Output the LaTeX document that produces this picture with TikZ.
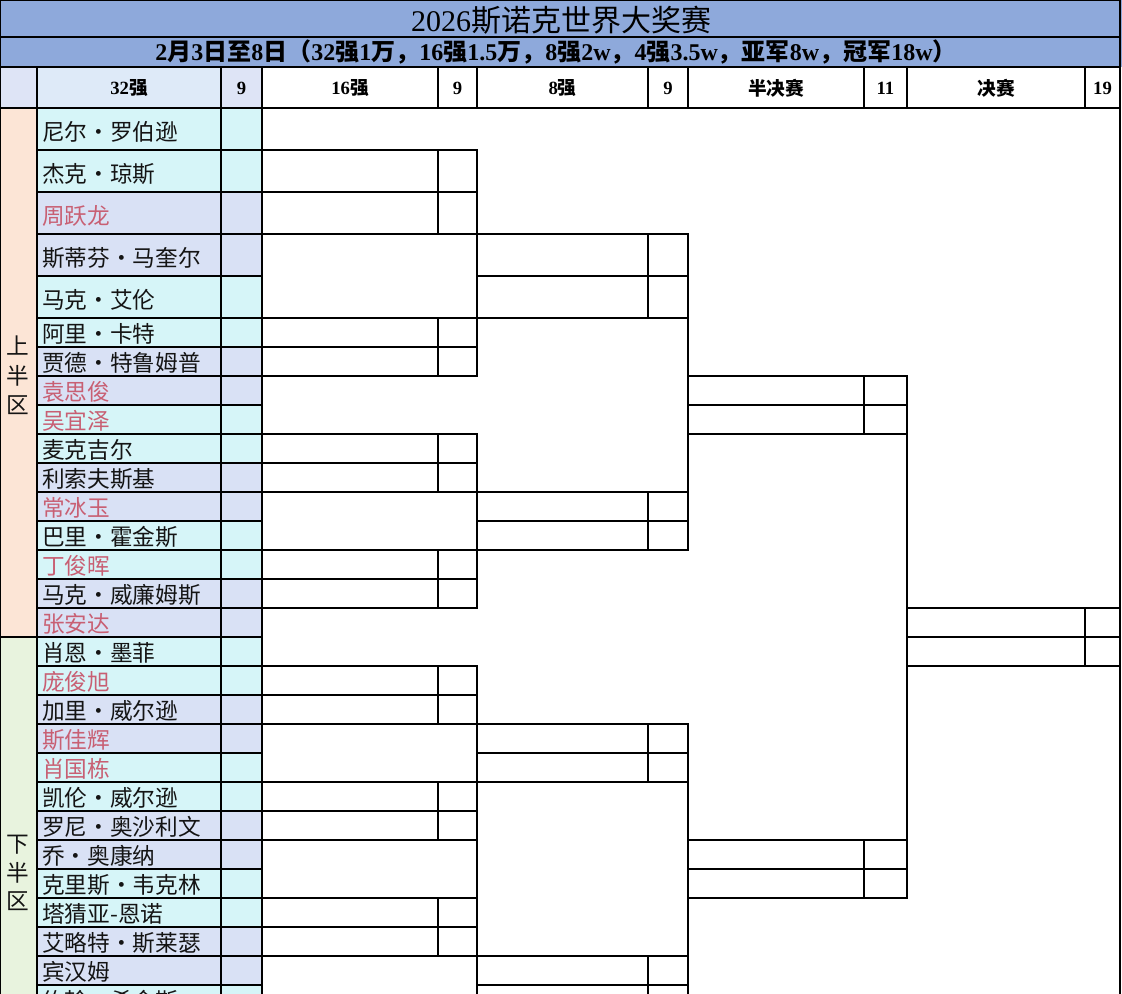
\documentclass[tikz,border=0pt]{standalone}
\usepackage{fontspec}
\setmainfont{Liberation Serif}
\newfontfamily\cjk{Noto Sans CJK SC}
\definecolor{titleblue}{RGB}{142,169,219}
\definecolor{cyanc}{RGB}{214,245,248}
\definecolor{lavc}{RGB}{217,225,245}
\definecolor{peachc}{RGB}{252,229,214}
\definecolor{greenc}{RGB}{232,243,222}
\definecolor{hdrblue}{RGB}{222,234,248}
\definecolor{hdrlav}{RGB}{222,228,246}
\definecolor{nred}{RGB}{200,95,115}
\definecolor{nblk}{RGB}{20,20,20}
\newcommand\dt{\makebox[1em]{•}}
\tikzset{
  grid/.style={line width=0.9pt, black, line cap=rect},
  pname/.style={anchor=base west, inner sep=0pt, font=\cjk\fontsize{17}{17}\selectfont},
  hdr/.style={anchor=center, inner sep=0pt, font=\bfseries\fontsize{14}{14}\selectfont},
  region/.style={anchor=center, inner sep=0pt, font=\cjk\fontsize{17}{17}\selectfont, text=nblk},
}
\begin{document}
\begin{tikzpicture}[x=0.75pt,y=-0.75pt]
\useasboundingbox (0,0) rectangle (1122,994);
\begin{scope}
\clip (0,0) rectangle (1122,994);
% backgrounds
\fill[white] (0,0) rectangle (1122,994);
\fill[titleblue] (0,0) rectangle (1122,67);
\fill[hdrlav] (0,67) rectangle (37,108);
\fill[hdrblue] (37,67) rectangle (221,108);
\fill[hdrlav] (221,67) rectangle (262,108);
\fill[peachc] (0,108) rectangle (37,637);
\fill[greenc] (0,637) rectangle (37,994);
\foreach \i in {0,...,28}{
  \pgfmathsetmacro\yt{\i<5 ? 108+42*\i : 318+29*(\i-5)}
  \pgfmathsetmacro\yb{\i<5 ? \yt+42 : \yt+29}
  \pgfmathtruncatemacro\p{mod(floor(\i/2),2)}
  \ifnum\p=0 \def\fc{cyanc}\else\def\fc{lavc}\fi
  \fill[\fc] (37,\yt) rectangle (262,\yb);
}
% frame and header lines
\foreach \y in {0.5,37,67,108}{\draw[grid] (0,\y) -- (1120,\y);}
\draw[grid] (0.5,0) -- (0.5,994);
\foreach \x in {438,477,648,688,864,907,1085}{\draw[grid] (\x,67) -- (\x,108);}
\foreach \x in {37,221,262}{\draw[grid] (\x,67) -- (\x,994);}
\draw[grid] (0,637) -- (37,637);
% row lines in name / score columns
\foreach \y in {150,192,234,276,318,347,376,405,434,463,492,521,550,579,608,637,666,695,724,753,782,811,840,869,898,927,956,985}{
  \draw[grid] (37,\y) -- (262,\y);
}
% bracket horizontal lines
\foreach \y/\a/\b in {150/262/477,192/262/477,234/262/688,276/477/688,318/262/688,347/262/477,376/262/477,376/688/907,405/688/907,434/262/477,434/688/907,463/262/477,492/262/688,521/477/688,550/262/688,579/262/477,608/262/477,608/907/1120,637/907/1120,666/262/477,666/907/1120,695/262/477,724/262/688,753/477/688,782/262/688,811/262/477,840/262/477,840/688/907,869/688/907,898/262/477,898/688/907,927/262/477,956/262/688,985/477/688}{
  \draw[grid] (\a,\y) -- (\b,\y);
}
% bracket vertical lines
\foreach \x/\a/\b in {438/150/234,438/318/376,438/434/492,438/550/608,438/666/724,438/782/840,438/898/956,477/150/376,477/434/608,477/666/994,648/234/318,648/492/550,648/724/782,648/956/994,688/234/550,688/724/994,864/376/434,864/840/898,907/376/898,1085/608/666}{
  \draw[grid] (\x,\a) -- (\x,\b);
}
\draw[line width=1.9pt] (1120,0) -- (1120,994);
% title texts
\node[inner sep=0pt, font=\fontsize{22.5}{22.5}\selectfont] (title) at (561,20) {2026{\cjk 斯诺克世界大奖赛}};
\node[inner sep=0pt, font=\bfseries\fontsize{18}{18}\selectfont] (sub) at (556,52) {2{\cjk 月}3{\cjk 日至}8{\cjk 日（}32{\cjk 强}1{\cjk 万，}16{\cjk 强}1.5{\cjk 万，}8{\cjk 强}2w{\cjk ，}4{\cjk 强}3.5w{\cjk ，亚军}8w{\cjk ，冠军}18w{\cjk ）}};
% header
\node[hdr] (h1) at (129,88) {32{\cjk 强}};
\node[hdr] (s1) at (241.5,88) {9};
\node[hdr] (h2) at (350,88) {16{\cjk 强}};
\node[hdr] (s2) at (457.5,88) {9};
\node[hdr] (h3) at (562.5,88) {8{\cjk 强}};
\node[hdr] (s3) at (668,88) {9};
\node[hdr] (h4) at (776,88) {\cjk 半决赛};
\node[hdr] (s4) at (885.5,88) {11};
\node[hdr] (h5) at (996,88) {\cjk 决赛};
\node[hdr] (s5) at (1102.5,88) {19};
% region labels
\node[region] (u1) at (18,346) {上};
\node[region] (u2) at (18,376) {半};
\node[region] (u3) at (18,405) {区};
\node[region] (d1) at (18,845) {下};
\node[region] (d2) at (18,873) {半};
\node[region] (d3) at (18,901) {区};
% player names
\foreach \i/\nm/\cl in {
  0/{尼尔\dt 罗伯逊}/nblk,
  1/{杰克\dt 琼斯}/nblk,
  2/{周跃龙}/nred,
  3/{斯蒂芬\dt 马奎尔}/nblk,
  4/{马克\dt 艾伦}/nblk,
  5/{阿里\dt 卡特}/nblk,
  6/{贾德\dt 特鲁姆普}/nblk,
  7/{袁思俊}/nred,
  8/{吴宜泽}/nred,
  9/{麦克吉尔}/nblk,
  10/{利索夫斯基}/nblk,
  11/{常冰玉}/nred,
  12/{巴里\dt 霍金斯}/nblk,
  13/{丁俊晖}/nred,
  14/{马克\dt 威廉姆斯}/nblk,
  15/{张安达}/nred,
  16/{肖恩\dt 墨菲}/nblk,
  17/{庞俊旭}/nred,
  18/{加里\dt 威尔逊}/nblk,
  19/{斯佳辉}/nred,
  20/{肖国栋}/nred,
  21/{凯伦\dt 威尔逊}/nblk,
  22/{罗尼\dt 奥沙利文}/nblk,
  23/{乔\dt 奥康纳}/nblk,
  24/{克里斯\dt 韦克林}/nblk,
  25/{塔猜亚-恩诺}/nblk,
  26/{艾略特\dt 斯莱瑟}/nblk,
  27/{宾汉姆}/nblk,
  28/{约翰\dt 希金斯}/nblk}{
  \pgfmathsetmacro\yb{\i<5 ? 150+42*\i : 347+29*(\i-5)}
  \pgfmathsetmacro\bl{\i<5 ? \yb-9 : \yb-4.5}
  \node[pname, text=\cl] (n\i) at (42,\bl) {\nm};
}
\end{scope}
\end{tikzpicture}
\end{document}
